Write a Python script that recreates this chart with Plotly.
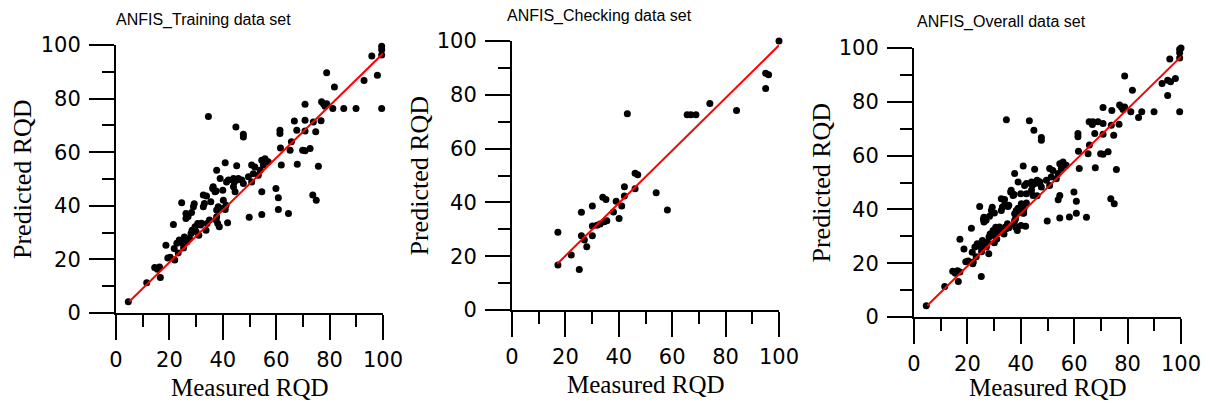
import plotly.graph_objects as go

# measured vs predicted RQD
train_measured = [4.6, 11.5, 14.5, 15.5, 16.3, 16.6, 18.7, 19.4, 20.3, 21.5, 21.8, 22.0, 22.8, 23.3, 23.7,
                  24.6, 25.0, 25.3, 25.6, 26.2, 26.2, 26.6, 27.5, 27.0, 28.1, 28.5, 28.3, 29.0, 29.6, 29.3,
                  30.0, 30.6, 31.0, 31.6, 32.0, 32.7, 33.1, 32.7, 33.7, 34.1, 33.9, 34.6, 35.0, 35.5, 36.2,
                  36.4, 37.1, 37.5, 37.7, 37.5, 37.7, 37.7, 38.1, 38.3, 38.7, 39.0, 40.0, 40.0, 40.2, 40.9,
                  40.9, 41.2, 41.4, 41.8, 42.1, 44.0, 44.0, 44.3, 44.6, 44.9, 45.2, 45.2, 45.8, 47.1, 47.7,
                  47.7, 47.7, 49.6, 49.9, 50.8, 50.8, 51.4, 52.0, 53.3, 54.0, 54.6, 54.6, 54.6, 55.2, 55.8,
                  57.0, 59.9, 60.8, 60.8, 61.4, 61.4, 61.6, 61.9, 64.6, 65.2, 65.7, 66.8, 67.7, 67.9, 70.8,
                  70.8, 70.8, 69.9, 70.8, 72.7, 73.9, 73.7, 75.0, 74.8, 75.8, 76.8, 77.0, 77.7, 78.3, 78.9,
                  78.9, 81.2, 81.8, 85.3, 89.9, 92.9, 95.8, 97.9, 99.5, 99.5, 99.5, 99.5]
train_predicted = [4.2, 11.3, 17.0, 16.3, 17.2, 13.2, 25.3, 20.5, 20.8, 33.0, 24.1, 19.8, 26.0, 22.4, 27.2,
                   41.1, 26.0, 24.3, 28.4, 37.1, 35.3, 26.6, 27.8, 36.0, 29.7, 30.9, 37.5, 39.6, 32.2, 40.8,
                   30.3, 33.4, 29.0, 32.8, 33.5, 44.0, 40.9, 39.6, 30.9, 33.4, 43.7, 73.3, 34.7, 41.5, 46.5,
                   47.1, 45.2, 34.7, 35.9, 45.5, 38.4, 53.3, 33.4, 39.6, 32.2, 50.2, 39.0, 45.8, 42.1, 38.6,
                   56.1, 40.2, 48.9, 33.7, 49.6, 50.2, 47.1, 48.9, 45.2, 69.4, 54.9, 49.6, 50.2, 49.6, 48.3,
                   66.7, 65.7, 50.8, 35.7, 48.9, 55.2, 52.0, 54.5, 51.4, 53.3, 45.2, 36.8, 57.0, 55.2, 57.6,
                   56.4, 46.5, 43.0, 38.6, 68.2, 67.0, 61.6, 55.2, 37.1, 60.7, 63.9, 71.6, 68.2, 55.5, 77.9,
                   71.9, 67.9, 60.7, 60.5, 61.4, 71.3, 44.0, 42.1, 67.6, 54.8, 71.7, 78.8, 78.1, 77.1, 78.1,
                   89.6, 76.3, 84.3, 76.3, 76.3, 86.8, 95.9, 88.7, 99.5, 98.2, 96.3, 76.3]

check_measured = [17.2, 17.2, 22.2, 25.2, 26.0, 26.0, 27.1, 28.0, 30.1, 30.1, 30.1, 31.8, 33.0, 34.0,
                  35.2, 34.5, 35.5, 38.0, 39.0, 40.1, 41.1, 42.1, 42.1, 43.2, 46.1, 46.1, 47.1, 54.0,
                  58.2, 65.6, 67.0, 68.9, 74.1, 84.1, 95.0, 95.0, 96.1, 100.0]
check_predicted = [28.9, 16.7, 20.4, 15.1, 36.3, 27.6, 26.0, 23.5, 38.7, 27.6, 31.2, 31.5, 32.0, 41.9,
                   41.1, 32.8, 33.2, 36.4, 40.4, 34.0, 38.7, 45.8, 42.4, 73.0, 45.1, 50.8, 50.3, 43.6,
                   37.2, 72.6, 72.6, 72.6, 76.8, 74.2, 82.3, 88.0, 87.5, 100.0]

# fitted line end points as drawn
train_fit_x, train_fit_y = [5, 100], [4.3, 96.8]
check_fit_x, check_fit_y = [17, 100], [17.2, 98.4]
overall_fit_x, overall_fit_y = [5, 100], [4.3, 96.8]

panel_titles = ["ANFIS_Training data set", "ANFIS_Checking data set", "ANFIS_Overall data set"]
major_ticks = [0, 20, 40, 60, 80, 100]

# the page body has an 8px margin, so the figure is drawn 16px smaller and every
# pixel position below (read in window coordinates) is shifted by 8
PAD = 8
W, H = 1211 - 2 * PAD, 409 - 2 * PAD
# plot box of each panel in window pixels: left, right, bottom(y=0), top(y=100)
boxes = [(116, 383, 313, 45), (512, 779, 310, 41), (914, 1181, 317, 48)]
title_pos = [(203, 20), (599, 16), (1001, 22)]


def px(x):
    return (x - PAD) / W


def py(y):
    return 1 - (y - PAD) / H


panels = [
    (train_measured, train_predicted, train_fit_x, train_fit_y),
    (check_measured, check_predicted, check_fit_x, check_fit_y),
    (train_measured + check_measured, train_predicted + check_predicted, overall_fit_x, overall_fit_y),
]

fig = go.Figure()
annotations = []
layout_axes = {}
for i, ((mx, pr, fx, fy), (l, r, b, t)) in enumerate(zip(panels, boxes)):
    n = "" if i == 0 else str(i + 1)
    fig.add_trace(go.Scatter(x=mx, y=pr, mode="markers", xaxis="x" + n, yaxis="y" + n,
                             marker=dict(color="black", size=7), cliponaxis=False, showlegend=False))
    fig.add_trace(go.Scatter(x=fx, y=fy, mode="lines", xaxis="x" + n, yaxis="y" + n,
                             line=dict(color="#ff0000", width=2), showlegend=False))
    common = dict(range=[0, 100], showline=True, linecolor="black", linewidth=2, showgrid=False,
                  zeroline=False, ticks="outside", tickwidth=2, tickcolor="black",
                  tickvals=major_ticks, fixedrange=True, automargin=False,
                  tickfont=dict(family="DejaVu Sans", size=21, color="black"),
                  minor=dict(ticks="outside", ticklen=12, tickwidth=2, tickcolor="black", dtick=10))
    layout_axes["xaxis" + n] = dict(common, domain=[px(l), px(r)], anchor="y" + n, ticklen=25,
                                    ticklabelstandoff=2)
    layout_axes["yaxis" + n] = dict(common, domain=[py(b), py(t)], anchor="x" + n, ticklen=25,
                                    ticklabelstandoff=4)
    tx, ty = title_pos[i]
    annotations.append(dict(text=panel_titles[i], x=px(tx), y=py(ty), xref="paper", yref="paper",
                            showarrow=False, xanchor="center", yanchor="middle",
                            font=dict(family="Liberation Sans, Arial", size=16, color="black")))
    annotations.append(dict(text="Measured RQD", x=px((l + r) / 2), y=py(min(b + 74, 387)), xref="paper",
                            yref="paper", showarrow=False, xanchor="center", yanchor="middle",
                            font=dict(family="Liberation Serif, Times New Roman", size=25, color="black")))
    annotations.append(dict(text="Predicted RQD", x=px(l - 93), y=py((b + t) / 2), xref="paper",
                            yref="paper", showarrow=False, xanchor="center", yanchor="middle", textangle=-90,
                            font=dict(family="Liberation Serif, Times New Roman", size=26, color="black")))

fig.update_layout(width=W, height=H, margin=dict(l=0, r=0, t=0, b=0),
                  paper_bgcolor="white", plot_bgcolor="white",
                  annotations=annotations, **layout_axes)

fig.write_html("out.html")
